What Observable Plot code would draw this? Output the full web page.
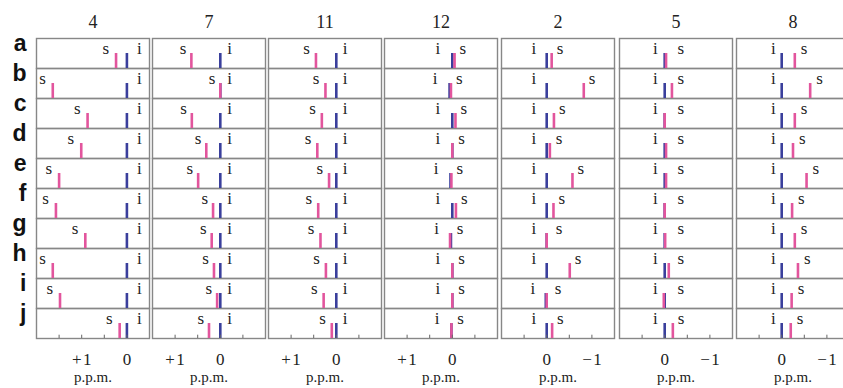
<!DOCTYPE html>
<html><head><meta charset="utf-8">
<script src="https://cdn.jsdelivr.net/npm/d3@7"></script>
<script src="https://cdn.jsdelivr.net/npm/@observablehq/plot@0.6"></script>
<style>
html,body{margin:0;padding:0;background:#fff;overflow:hidden}
#chart{position:relative;width:843px;height:388px;overflow:hidden}
#chart > svg{position:absolute;top:0}
#chart svg text{font-family:"Liberation Serif","Times New Roman",serif}
#chart svg g[aria-label="fy-axis tick label"] text{font-family:"Liberation Sans",Arial,sans-serif;font-weight:bold}
</style></head><body><div id="chart"></div>
<script>
// column headers and row labels
const columns = ["4", "7", "11", "12", "2", "5", "8"];
const rows = ["a", "b", "c", "d", "e", "f", "g", "h", "i", "j"];

// chemical shifts (p.p.m.), rows a–j; s = pink peak, i = blue peak
const s4  = [0.24, 1.64, 0.87, 1.01, 1.50, 1.57, 0.92, 1.64, 1.48, 0.16];
const i4  = [0, 0, 0, 0, 0, 0, 0, 0, 0, 0];
const s7  = [0.64, 0.00, 0.63, 0.31, 0.49, 0.16, 0.19, 0.14, 0.07, 0.25];
const i7  = [0, 0, 0, 0, 0, 0, 0, 0, 0, 0];
const s11 = [0.45, 0.24, 0.32, 0.42, 0.16, 0.40, 0.35, 0.23, 0.28, 0.10];
const i11 = [0, 0, 0, 0, 0, 0, 0, 0, 0, 0];
const s12 = [-0.05, 0.03, -0.07, 0.00, 0.02, -0.08, 0.05, 0.00, 0.00, 0.02];
const i12 = [0.00, 0.06, 0.00, 0.00, 0.04, 0.00, 0.03, 0.00, 0.00, 0.02];
const s2  = [-0.11, -0.82, -0.16, -0.07, -0.57, -0.15, 0.00, -0.51, 0.00, -0.12];
const i2  = [0, 0, 0, 0, 0, 0, 0, 0, 0.02, 0];
const s5  = [-0.03, -0.16, 0.00, -0.03, -0.03, 0.00, -0.01, -0.09, 0.02, -0.18];
const i5  = [0, 0, 0, 0, 0, 0, 0, 0, 0, 0];
const s8  = [-0.29, -0.63, -0.29, -0.25, -0.55, -0.23, -0.29, -0.36, -0.22, -0.20];
const i8  = [0, 0, 0, 0, 0, 0, 0, 0, 0, 0];

// axis: domains (reversed p.p.m.), minor tick marks and labelled ticks
const xDomains = [[2, -0.5], [1.5, -1], [1.5, -1], [1.5, -1], [1, -1.5], [1, -1.5], [1, -1.5]];
const minorTicks = [[1.5, 1, 0.5, 0], [1, 0.5, 0, -0.5], [1, 0.5, 0, -0.5], [1, 0.5, 0, -0.5],
                    [0.5, 0, -0.5, -1], [0.5, 0, -0.5, -1], [0.5, 0, -0.5, -1]];
const labelTicks = [[1, 0], [1, 0], [1, 0], [1, 0], [0, -1], [0, -1], [0, -1]];
const axisTitle = "p.p.m.";

const S = [s4, s7, s11, s12, s2, s5, s8];
const I = [i4, i7, i11, i12, i2, i5, i8];

// layout / style
const panelLeft = [36, 152, 268, 384, 501, 619, 736];
const panelW = 113;
const pink = "#e2559d", blue = "#3a3f9c";
const serif = "Liberation Serif, Times New Roman, serif";
const labelRight = [false, false, false, true, true, true, true];
const sDx = [-7, -5, -6, 5, 5, 5, 6];
const iDx = [10, 7, 6.5, -12, -10.5, -7, -6];
const sMinGap = [0, 0, 0, 0.02, 0.09, 0.17, 0];
const fmt = d => d > 0 ? "+\u200A" + d : d < 0 ? "\u2212\u200A" + (-d) : "0";

const chart = document.getElementById("chart");

columns.forEach((c, k) => {
  const data = rows.map((r, j) => {
    const s = S[k][j], i = I[k][j];
    const sl = labelRight[k] ? Math.min(s, i - sMinGap[k]) : s;
    return {col: c, row: r, s, i, sl};
  });
  const first = k === 0;
  const ml = first ? 36 : 2, mr = 2;
  const svg = Plot.plot({
    width: ml + panelW + mr,
    height: 388,
    marginTop: 34, marginBottom: 46, marginLeft: ml, marginRight: mr,
    style: {background: "transparent", overflow: "visible"},
    x: {domain: xDomains[k], label: null},
    y: {domain: [0, 1], axis: null},
    fx: {domain: [c], label: null, padding: 0},
    fy: {domain: rows, label: null, padding: 0, axis: first ? undefined : null},
    marks: [
      Plot.frame({stroke: "#878787", strokeWidth: 1.4}),
      Plot.ruleX(data, {x: "i", y1: 0, y2: 0.5, fx: "col", fy: "row", stroke: blue, strokeWidth: 2.6}),
      Plot.ruleX(data, {x: "s", y1: 0, y2: 0.5, fx: "col", fy: "row", stroke: pink, strokeWidth: 2.6}),
      Plot.text(data, {x: "sl", y: 0.67, fx: "col", fy: "row", text: () => "s",
        textAnchor: labelRight[k] ? "start" : "end", dx: sDx[k],
        fontSize: 17, fontFamily: serif, fill: "#222"}),
      Plot.text(data, {x: "i", y: 0.67, fx: "col", fy: "row", text: () => "i",
        textAnchor: labelRight[k] ? "end" : "start", dx: iDx[k],
        fontSize: 17, fontFamily: serif, fill: "#222"}),
      Plot.ruleX(minorTicks[k], {x: d => d, y1: 0, y2: 0.11, fx: () => c, fy: () => "j",
        stroke: "#666", strokeWidth: 1}),
      Plot.axisX(labelTicks[k], {tickSize: 0, tickPadding: 14, tickFormat: fmt, label: null,
        fontSize: 17, fontFamily: serif, fill: "#222"}),
      Plot.text([axisTitle], {text: d => d, frameAnchor: "bottom", fx: () => c, fy: () => "j",
        dy: 43, lineAnchor: "bottom", fontSize: 15, fontFamily: serif, fill: "#222"}),
      Plot.axisFx({anchor: "top", tickSize: 0, tickPadding: 11, label: null,
        fontSize: 18, fontFamily: serif, fill: "#222"}),
      first ? Plot.axisFy({anchor: "left", tickSize: 0, tickPadding: 10, label: null, dy: -10,
        fontSize: 23, fontWeight: "bold", fontFamily: "Liberation Sans, Arial, sans-serif", fill: "#111"}) : null
    ]
  });
  svg.style.left = (panelLeft[k] - ml) + "px";
  chart.appendChild(svg);
});
</script>
</body></html>
